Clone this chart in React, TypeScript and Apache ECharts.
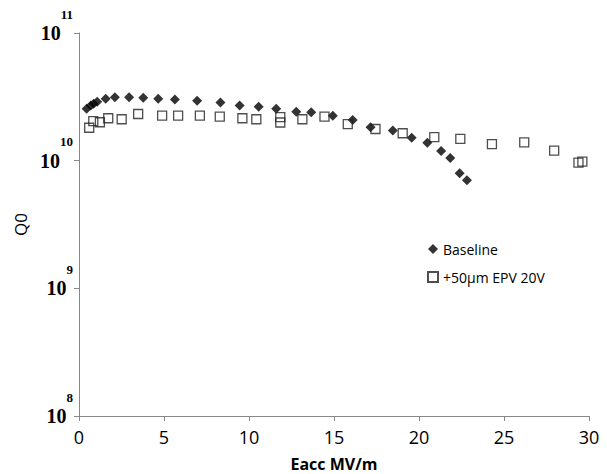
import React, { useEffect, useRef } from "react";
import * as echarts from "echarts";

const baselineX = [0.45, 0.69, 0.86, 1.07, 1.57, 2.11, 2.95, 3.78, 4.66, 5.64, 6.95, 8.32, 9.45, 10.57, 11.6, 12.78, 13.66, 14.93, 16.1, 17.15, 18.46, 19.57, 20.49, 21.3, 21.84, 22.39, 22.82];
const baselineQ = [2.55e10, 2.7e10, 2.79e10, 2.9e10, 3.06e10, 3.14e10, 3.14e10, 3.11e10, 3.06e10, 3.01e10, 2.95e10, 2.85e10, 2.7e10, 2.65e10, 2.55e10, 2.42e10, 2.39e10, 2.25e10, 2.08e10, 1.83e10, 1.72e10, 1.51e10, 1.38e10, 1.19e10, 1.05e10, 7.96e9, 7.03e9];

const epvX = [0.6, 0.84, 1.23, 1.72, 2.51, 3.48, 4.89, 5.83, 7.11, 8.28, 9.61, 10.43, 11.84, 11.84, 13.14, 14.44, 15.81, 17.44, 19.04, 20.9, 22.43, 24.29, 26.19, 27.95, 29.38, 29.61];
const epvQ = [1.81e10, 2.04e10, 2.0e10, 2.15e10, 2.11e10, 2.32e10, 2.25e10, 2.25e10, 2.25e10, 2.21e10, 2.15e10, 2.11e10, 2.19e10, 1.99e10, 2.11e10, 2.21e10, 1.93e10, 1.77e10, 1.64e10, 1.53e10, 1.48e10, 1.35e10, 1.39e10, 1.2e10, 9.64e9, 9.82e9];

const seriesNames = ["Baseline", "+50µm EPV 20V"];
const xAxisTitle = "Eacc MV/m";
const yAxisTitle = "Q0";

export default function App() {
  const ref = useRef<HTMLDivElement>(null);
  useEffect(() => {
    if (!ref.current) return;
    const chart = echarts.init(ref.current, null, { renderer: "svg" });
    const sans = "'Open Sans', sans-serif";
    const serif = "'Liberation Serif', serif";
    chart.setOption({
      animation: false,
      backgroundColor: "#fff",
      grid: { left: 79, top: 33, width: 510, height: 383, outerBoundsMode: "none", containLabel: false },
      legend: {
        orient: "vertical",
        left: 422,
        top: 237,
        itemWidth: 10,
        itemHeight: 10,
        itemGap: 14,
        textStyle: { fontFamily: sans, fontSize: 14, color: "#000" },
        data: [
          { name: seriesNames[0], icon: "diamond" },
          { name: seriesNames[1], icon: "rect" },
        ],
      },
      xAxis: {
        type: "value",
        min: 0,
        max: 30,
        interval: 5,
        name: xAxisTitle,
        nameLocation: "middle",
        nameGap: 40,
        nameTextStyle: { fontFamily: sans, fontSize: 16, fontWeight: "bold", color: "#000" },
        axisLine: { show: true, lineStyle: { color: "#888", width: 1 } },
        axisTick: { show: true, length: 5, lineStyle: { color: "#888" } },
        axisLabel: { fontFamily: sans, fontSize: 18, color: "#000", margin: 12 },
        splitLine: { show: false },
      },
      yAxis: {
        type: "log",
        logBase: 10,
        min: 1e8,
        max: 1e11,
        splitNumber: 3,
        name: yAxisTitle,
        nameLocation: "middle",
        nameGap: 45,
        nameTextStyle: { fontFamily: sans, fontSize: 17, color: "#000" },
        axisLine: { show: true, lineStyle: { color: "#888", width: 1 } },
        axisTick: { show: true, length: 5, lineStyle: { color: "#888" } },
        splitLine: { show: false },
        minorTick: { show: false },
        axisLabel: {
          margin: 6,
          formatter: (v: number) => `{b|10}{s|${Math.round(Math.log10(v))}}`,
          rich: {
            b: { fontFamily: serif, fontWeight: "bold", fontSize: 20, color: "#000" },
            s: { fontFamily: serif, fontWeight: "bold", fontSize: 13, color: "#000", padding: [0, 0, 38, 0] },
          },
        },
      },
      series: [
        {
          name: seriesNames[0],
          type: "scatter",
          symbol: "diamond",
          symbolSize: 10,
          itemStyle: { color: "#000" },
          data: baselineX.map((x, i) => [x, baselineQ[i]]),
        },
        {
          name: seriesNames[1],
          type: "scatter",
          symbol: "rect",
          symbolSize: 9,
          itemStyle: { color: "rgba(0,0,0,0)", borderColor: "#222", borderWidth: 1.3 },
          data: epvX.map((x, i) => [x, epvQ[i]]),
        },
      ],
    });
    return () => chart.dispose();
  }, []);
  return <div ref={ref} style={{ position: "absolute", left: 0, top: 0, width: 607, height: 474 }} />;
}
